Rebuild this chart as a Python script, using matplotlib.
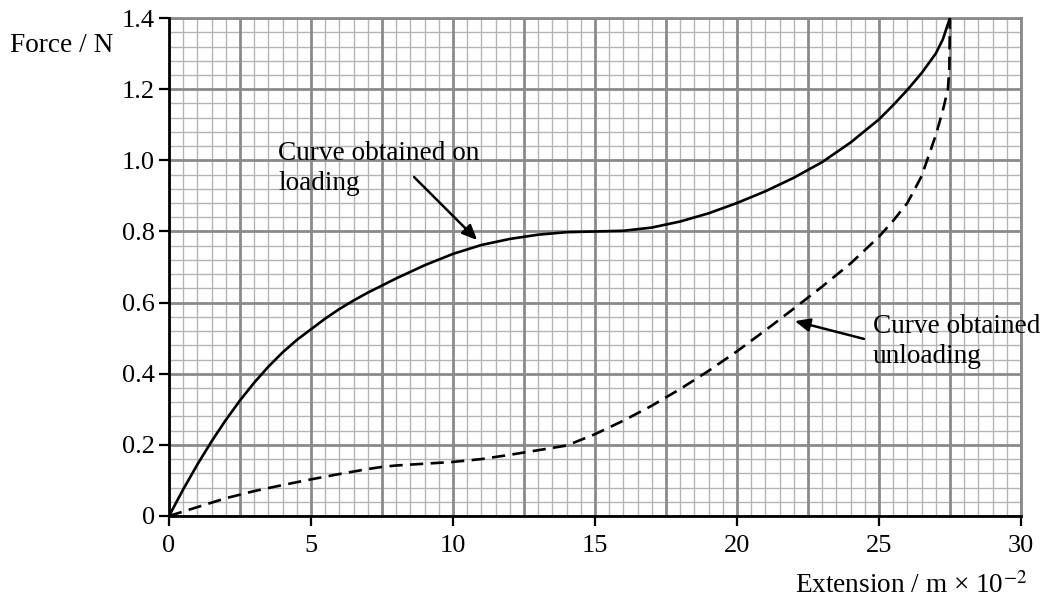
import matplotlib
matplotlib.use("Agg")
import matplotlib.pyplot as plt
import numpy as np

# Data
load_x = [0, 0.5, 1, 1.5, 2, 2.5, 3, 3.5, 4, 4.5, 5, 5.5, 6, 6.5, 7, 7.5, 8, 9, 10, 11, 12, 13, 14, 15,
          16, 17, 18, 19, 20, 21, 22, 23, 24, 25, 25.5, 26, 26.5, 27, 27.25, 27.5]
load_y = [0, 0.075, 0.145, 0.21, 0.27, 0.325, 0.375, 0.42, 0.46, 0.495, 0.525, 0.555, 0.582, 0.606,
          0.628, 0.648, 0.668, 0.705, 0.737, 0.762, 0.779, 0.791, 0.798, 0.80, 0.802, 0.811,
          0.828, 0.851, 0.88, 0.913, 0.951, 0.995, 1.05, 1.115, 1.155, 1.198, 1.245, 1.3,
          1.34, 1.4]

unload_x = [0, 1, 2, 3, 4, 5, 6, 7, 7.5, 8, 9, 10, 11, 12, 13, 14, 15, 16, 17, 18, 19,
            20, 21, 22, 23, 24, 25, 25.5, 26, 26.5, 27, 27.25, 27.43, 27.48, 27.5]
unload_y = [0, 0.025, 0.05, 0.07, 0.087, 0.103, 0.118, 0.132, 0.138, 0.142, 0.147, 0.152,
            0.16, 0.172, 0.185, 0.198, 0.23, 0.268, 0.31, 0.357, 0.408, 0.463, 0.522, 0.583,
            0.645, 0.71, 0.785, 0.83, 0.88, 0.955, 1.07, 1.14, 1.2, 1.26, 1.4]

x_ticks = [0, 5, 10, 15, 20, 25, 30]
y_ticks = [0, 0.2, 0.4, 0.6, 0.8, 1.0, 1.2, 1.4]
y_tick_labels = ["0", "0.2", "0.4", "0.6", "0.8", "1.0", "1.2", "1.4"]

plt.rcParams['font.family'] = ['Liberation Serif', 'DejaVu Serif']
plt.rcParams['mathtext.fontset'] = 'stix'
FS = 19
FS_T = 19.6

fig = plt.figure(figsize=(10.46, 6.03), dpi=100)
ax = fig.add_axes([0.1616, 0.1443, 0.976 - 0.1616, 0.970 - 0.1443])
ax.set_xlim(0, 30)
ax.set_ylim(0, 1.4)

MAJ = '#8a8a8a'
MIN = '#b4b4b4'
# graph-paper grid
for xv in np.arange(0, 30.01, 0.5):
    major = abs(xv / 2.5 - round(xv / 2.5)) < 1e-6
    ax.axvline(xv, color=MAJ if major else MIN, lw=2.0 if major else 1.0, zorder=1 if major else 0)
for yv in np.arange(0, 1.401, 0.04):
    major = abs(yv / 0.2 - round(yv / 0.2)) < 1e-6
    ax.axhline(yv, color=MAJ if major else MIN, lw=2.0 if major else 1.0, zorder=1 if major else 0)

ax.plot(load_x, load_y, color='black', lw=1.9, zorder=3, solid_joinstyle='round')
ax.plot(unload_x, unload_y, color='black', lw=1.9, ls=(0, (5, 2.8)), zorder=3)

ax.set_xticks(x_ticks)
ax.set_xticklabels([str(v) for v in x_ticks], fontsize=FS)
ax.set_yticks(y_ticks)
ax.set_yticklabels(y_tick_labels, fontsize=FS)
ax.tick_params(direction='out', length=7, width=1.6, color='black')
ax.tick_params(axis='x', pad=7)
ax.tick_params(axis='y', pad=3)

for s in ['left', 'bottom']:
    ax.spines[s].set_color('black')
    ax.spines[s].set_linewidth(2.0)
    ax.spines[s].set_zorder(4)
for s in ['top', 'right']:
    ax.spines[s].set_color(MAJ)
    ax.spines[s].set_linewidth(2.0)

arrow_style = dict(arrowstyle='-|>,head_length=0.9,head_width=0.4', color='black', lw=1.8,
                   shrinkA=0, shrinkB=0)

ax.text(3.84, 0.9165, "Curve obtained on\nloading", fontsize=FS_T, ha='left', va='baseline',
        linespacing=1.27, zorder=5)
ax.annotate("", xy=(10.85, 0.776), xytext=(8.63, 0.953), arrowprops=arrow_style, zorder=5)

ax.text(24.79, 0.430, "Curve obtained\nunloading", fontsize=FS_T, ha='left', va='baseline',
        linespacing=1.27, zorder=5, clip_on=False)
ax.annotate("", xy=(22.04, 0.548), xytext=(24.47, 0.498), arrowprops=arrow_style, zorder=5)

fig.text(10 / 1046, 1 - 52 / 603, "Force / N", fontsize=FS_T, ha='left', va='baseline')
fig.text(1027 / 1046, 1 - 593 / 603, "Extension / m × 10$^{-2}$", fontsize=FS_T,
         ha='right', va='baseline')

fig.savefig("out.png", dpi=100)
